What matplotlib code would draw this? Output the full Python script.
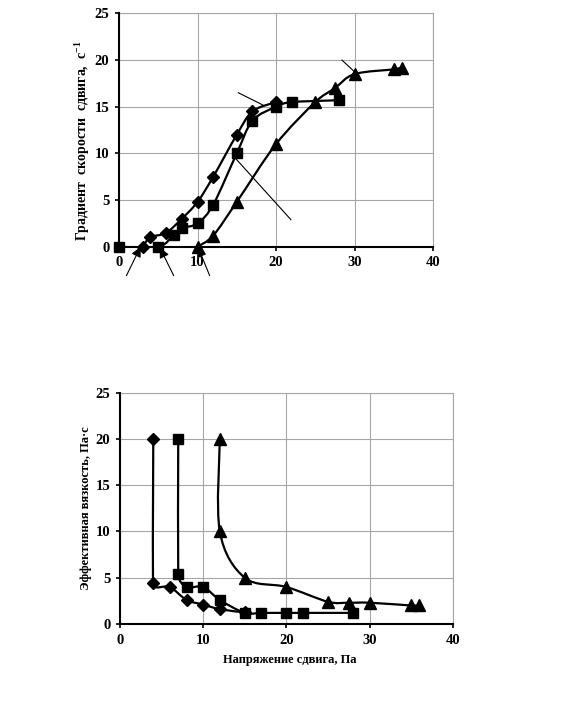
import numpy as np
import matplotlib
matplotlib.use("Agg")
import matplotlib.pyplot as plt
from matplotlib.path import Path
from matplotlib.patches import PathPatch

plt.rcParams['font.family'] = ['Liberation Serif', 'DejaVu Serif']
plt.rcParams['font.weight'] = 'bold'

# top chart: shear rate gradient vs shear stress
grad_d_x = [3, 4, 6, 8, 10, 12, 15, 17, 20]
grad_d_y = [0, 1, 1.5, 3, 4.8, 7.5, 12, 14.5, 15.5]
grad_s_x = [0, 5, 7, 8, 10, 12, 15, 17, 20, 22, 28]
grad_s_y = [0, 0, 1.3, 2, 2.5, 4.5, 10, 13.5, 15, 15.5, 15.7]
grad_t_x = [10, 12, 15, 20, 25, 27.5, 30, 35, 36]
grad_t_y = [0, 1.2, 4.8, 11, 15.5, 17, 18.5, 19, 19.2]

# bottom chart: effective viscosity vs shear stress
visc_d_x = [4, 4, 6, 8, 10, 12, 15]
visc_d_y = [20, 4.4, 4, 2.6, 2.1, 1.6, 1.25]
visc_s_x = [7, 7, 8, 10, 12, 15, 17, 20, 22, 28]
visc_s_y = [20, 5.4, 4, 4, 2.6, 1.2, 1.2, 1.2, 1.2, 1.2]
visc_t_x = [12, 12, 15, 20, 25, 27.5, 30, 35, 36]
visc_t_y = [20, 10, 5, 4, 2.4, 2.3, 2.3, 2, 2]

ticks_x = [0, 10, 20, 30, 40]
ticks_y = [0, 5, 10, 15, 20, 25]


def smooth(ax, xs, ys, sx, sy):
    # Excel-like smoothed line: bezier segments, tension limited near short segments
    p = np.column_stack([np.array(xs, float) * sx, np.array(ys, float) * sy])
    n = len(p)
    tan = []
    for i in range(n):
        a = p[i - 1] if i > 0 else p[i]
        b = p[i + 1] if i + 1 < n else p[i]
        d = b - a
        d02 = np.hypot(*d)
        f = 1 / 6.0
        if 0 < i < n - 1 and d02 > 0:
            d01 = np.hypot(*(p[i] - a))
            d12 = np.hypot(*(b - p[i]))
            f = min(f, d01 / (2 * d02), d12 / (2 * d02))
        tan.append(d * f)
    verts = [p[0]]
    codes = [Path.MOVETO]
    for i in range(n - 1):
        verts += [p[i] + tan[i], p[i + 1] - tan[i + 1], p[i + 1]]
        codes += [Path.CURVE4] * 3
    verts = np.array(verts)
    verts[:, 0] /= sx
    verts[:, 1] /= sy
    ax.add_patch(PathPatch(Path(verts, codes), fill=False, lw=1.6,
                           edgecolor='black', zorder=3))


def style(ax):
    ax.set_xlim(0, 40)
    ax.set_ylim(0, 25)
    ax.set_xticks(ticks_x)
    ax.set_yticks(ticks_y)
    ax.grid(True, color='#a6a6a6', lw=0.8)
    ax.set_axisbelow(True)
    for s in ['top', 'right']:
        ax.spines[s].set_color('#a6a6a6')
        ax.spines[s].set_linewidth(0.8)
    for s in ['left', 'bottom']:
        ax.spines[s].set_color('black')
        ax.spines[s].set_linewidth(1.5)
        ax.spines[s].set_zorder(4)
    ax.tick_params(direction='out', length=3, width=1.2, labelsize=10.5, pad=4)
    for lab in ax.get_xticklabels() + ax.get_yticklabels():
        lab.set_fontweight('bold')


def series(ax, xs, ys, marker, ms, sx, sy):
    smooth(ax, xs, ys, sx, sy)
    ax.plot(xs, ys, ls='none', marker=marker, ms=ms, color='black',
            zorder=5, clip_on=False)


fig = plt.figure(figsize=(5.86, 7.07), dpi=100)

ax1 = fig.add_axes([0.2031, 0.651, 0.5358, 0.330])
style(ax1)
sx1, sy1 = 314 / 40, 233 / 25
series(ax1, grad_d_x, grad_d_y, 'D', 6.5, sx1, sy1)
series(ax1, grad_s_x, grad_s_y, 's', 7.5, sx1, sy1)
series(ax1, grad_t_x, grad_t_y, '^', 8, sx1, sy1)
fig.text(82 / 586, 1 - 141 / 707,
         'Градиент  скорости  сдвига,  с$^{\\mathregular{-1}}$',
         rotation=90, ha='center', va='center', fontsize=10, fontweight='bold')

# pointer lines on the top chart
for (x0, y0), (x1, y1) in [((15.2, 16.5), (18.3, 15.2)),
                           ((28.4, 20.0), (30.0, 18.75)),
                           ((14.7, 9.6), (21.9, 2.9))]:
    ax1.plot([x0, x1], [y0, y1], color='black', lw=0.8, zorder=4)
for (x0, y0), (x1, y1) in [((0.94, -3.1), (2.75, 0.0)),
                           ((6.97, -3.1), (5.2, -0.1)),
                           ((11.55, -3.1), (10.05, 0.0))]:
    ax1.annotate('', xy=(x1, y1), xytext=(x0, y0), annotation_clip=False,
                 arrowprops=dict(arrowstyle='-|>,head_length=0.5,head_width=0.25',
                                 lw=0.8, color='black',
                                 mutation_scale=12, shrinkA=0, shrinkB=0))

ax2 = fig.add_axes([0.2048, 0.1174, 0.5677, 0.3272])
style(ax2)
sx2, sy2 = 333 / 40, 231 / 25
series(ax2, visc_d_x, visc_d_y, 'D', 6.5, sx2, sy2)
series(ax2, visc_s_x, visc_s_y, 's', 7.5, sx2, sy2)
series(ax2, visc_t_x, visc_t_y, '^', 8, sx2, sy2)
fig.text(86 / 586, 1 - 508 / 707, 'Эффективная вязкость, Па·с',
         rotation=90, ha='center', va='center', fontsize=9, fontweight='bold')
fig.text(290 / 586, 1 - 660 / 707, 'Напряжение сдвига, Па',
         ha='center', va='center', fontsize=9, fontweight='bold')

fig.savefig('out.png', dpi=100)
